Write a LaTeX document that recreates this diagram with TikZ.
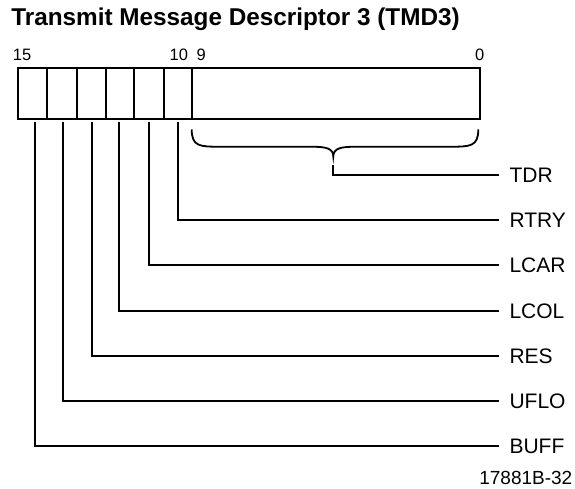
\documentclass[tikz,border=0pt]{standalone}
\usepackage{fontspec}
\setmainfont{Liberation Sans}
\begin{document}
\begin{tikzpicture}[x=1pt,y=-1pt,
  wire/.style={line width=1.8pt},
  bitnum/.style={anchor=base west,inner sep=0pt,font=\fontsize{16.5}{17}\selectfont},
  fieldlabel/.style={anchor=west,inner sep=0pt,outer xsep=10.5pt,text height=15pt,text depth=0pt,font=\fontsize{21}{21}\selectfont},
  titletext/.style={anchor=base west,inner sep=0pt,font=\fontsize{24.3}{25}\selectfont\bfseries},
  figid/.style={anchor=base east,inner sep=0pt,font=\fontsize{19}{19}\selectfont}]
\useasboundingbox (0,0) rectangle (575,488);
% title
\node[titletext] (title) at (11.2,25.5) {Transmit Message Descriptor 3 (TMD3)};
% bit numbers
\node[bitnum] (n15) at (12.7,60.7) {15};
\node[bitnum] (n10) at (169.5,60.7) {10};
\node[bitnum] (n9) at (196.5,60.7) {9};
\node[bitnum] (n0) at (475,60.7) {0};
% register
\draw[wire] (18.3,68.3) rectangle (480,119.3);
\foreach \x in {46.7,77.3,105.7,134,164,192.3}
  \draw[wire] (\x,68.3) -- (\x,119.3);
% brace
\draw[wire] (191.7,129.3) .. controls (191.7,146.7) and (200,146.7) .. (220,146.7)
  -- (310,146.7) .. controls (326,146.7) and (333.3,148) .. (333.3,156.7)
  .. controls (333.3,148) and (341,146.7) .. (356.7,146.7)
  -- (450,146.7) .. controls (470,146.7) and (478.3,146.7) .. (478.3,129.3);
% labels
\node[fieldlabel] (TDR) at (499,175) {TDR};
\node[fieldlabel] (RTRY) at (499,220) {RTRY};
\node[fieldlabel] (LCAR) at (499,265) {LCAR};
\node[fieldlabel] (LCOL) at (499,311) {LCOL};
\node[fieldlabel] (RES) at (499,356) {RES};
\node[fieldlabel] (UFLO) at (499,401) {UFLO};
\node[fieldlabel] (BUFF) at (499,446) {BUFF};
\node[figid] (fig) at (572.5,484.5) {17881B-32};
% leader start points
\coordinate (tip) at (333.3,165);
\coordinate (b10) at (177.7,121.5);
\coordinate (b11) at (149.3,121.5);
\coordinate (b12) at (119.3,121.5);
\coordinate (b13) at (91.7,121.5);
\coordinate (b14) at (63.3,121.5);
\coordinate (b15) at (35,121.5);
% leaders
\draw[wire] (tip) |- (TDR.west);
\draw[wire] (b10) |- (RTRY.west);
\draw[wire] (b11) |- (LCAR.west);
\draw[wire] (b12) |- (LCOL.west);
\draw[wire] (b13) |- (RES.west);
\draw[wire] (b14) |- (UFLO.west);
\draw[wire] (b15) |- (BUFF.west);
\end{tikzpicture}
\end{document}
